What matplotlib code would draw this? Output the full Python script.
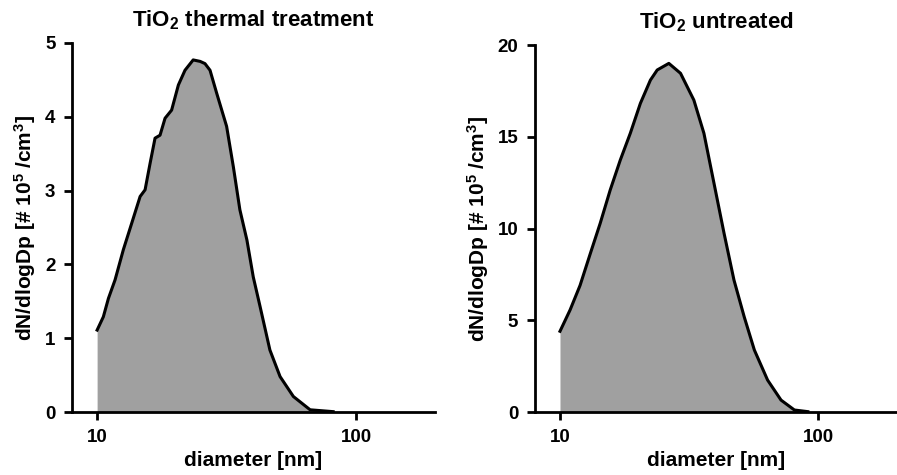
import numpy as np
import matplotlib.pyplot as plt

plt.rcParams["font.family"] = ["Liberation Sans", "DejaVu Sans"]
plt.rcParams["font.weight"] = "bold"
plt.rcParams["mathtext.fontset"] = "custom"
plt.rcParams["mathtext.rm"] = "Liberation Sans:bold"
plt.rcParams["mathtext.bf"] = "Liberation Sans:bold"
plt.rcParams["mathtext.it"] = "Liberation Sans:bold"

# thermal treatment (left)
d_thermal = [10, 10.57, 11.06, 11.73, 12.63, 13.61, 14.66, 15.32, 16.02, 16.74, 17.5,
             18.3, 19.4, 20.6, 21.85, 23.5, 25.0, 26.1, 27.3, 28.96, 31.64, 33.6,
             35.6, 37.9, 40.1, 42.6, 46.5, 50.9, 57.3, 66.5, 81.6]
n_thermal = [1.11, 1.29, 1.54, 1.79, 2.20, 2.56, 2.92, 3.01, 3.37, 3.71, 3.75,
             3.98, 4.09, 4.43, 4.63, 4.77, 4.75, 4.72, 4.63, 4.32, 3.87, 3.32,
             2.74, 2.33, 1.83, 1.43, 0.84, 0.48, 0.21, 0.03, 0.005]

# untreated (right)
d_untreated = [10, 10.94, 11.96, 13.08, 14.31, 15.65, 17.12, 18.72, 20.48, 22.4, 23.8,
               26.4, 29.3, 33.0, 36.1, 39.5, 43.2, 47.2, 51.7, 56.6, 63.7, 71.8,
               80.9, 91.2]
n_untreated = [4.4, 5.56, 6.9, 8.6, 10.28, 12.1, 13.73, 15.19, 16.82, 18.09, 18.64,
               19.0, 18.46, 17.0, 15.19, 12.46, 9.74, 7.19, 5.19, 3.38, 1.74, 0.65,
               0.11, 0.02]

titles = [r"TiO$_\mathbf{2}$ thermal treatment", r"TiO$_\mathbf{2}$ untreated"]
ylims = [5, 20]
yticks = [[0, 1, 2, 3, 4, 5], [0, 5, 10, 15, 20]]

fig = plt.figure(figsize=(8.97, 4.75), dpi=100)
ax1 = fig.add_axes([0.0803, 0.1326, 0.4047, 0.777])
ax2 = fig.add_axes([0.5964, 0.1326, 0.4036, 0.7726])

for ax, d, n, title, ymax, yt in zip([ax1, ax2], [d_thermal, d_untreated],
                                      [n_thermal, n_untreated], titles, ylims, yticks):
    ax.fill_between(d, n, 0, color="#a0a0a0", lw=0)
    ax.plot(d, n, color="black", lw=2.2)
    ax.set_xscale("log")
    ax.set_xlim(8, 202)
    ax.set_ylim(0, ymax)
    ax.set_xticks([10, 100])
    ax.set_xticklabels(["10", "100"])
    ax.xaxis.set_minor_locator(plt.NullLocator())
    ax.set_yticks(yt)
    for s in ["top", "right"]:
        ax.spines[s].set_visible(False)
    for s in ["left", "bottom"]:
        ax.spines[s].set_linewidth(2)
    ax.tick_params(width=2, length=6, labelsize=13.5, pad=6)
    for lab in ax.get_xticklabels() + ax.get_yticklabels():
        lab.set_fontweight("bold")
    ax.set_title(title, fontsize=16, fontweight="bold", pad=12)
    ax.set_xlabel("diameter [nm]", fontsize=15, fontweight="bold", labelpad=4)
    ax.set_ylabel(r"dN/dlogDp [# 10$^5$ /cm$^3$]", fontsize=15, fontweight="bold", labelpad=5)

fig.savefig("out.png", dpi=100)
